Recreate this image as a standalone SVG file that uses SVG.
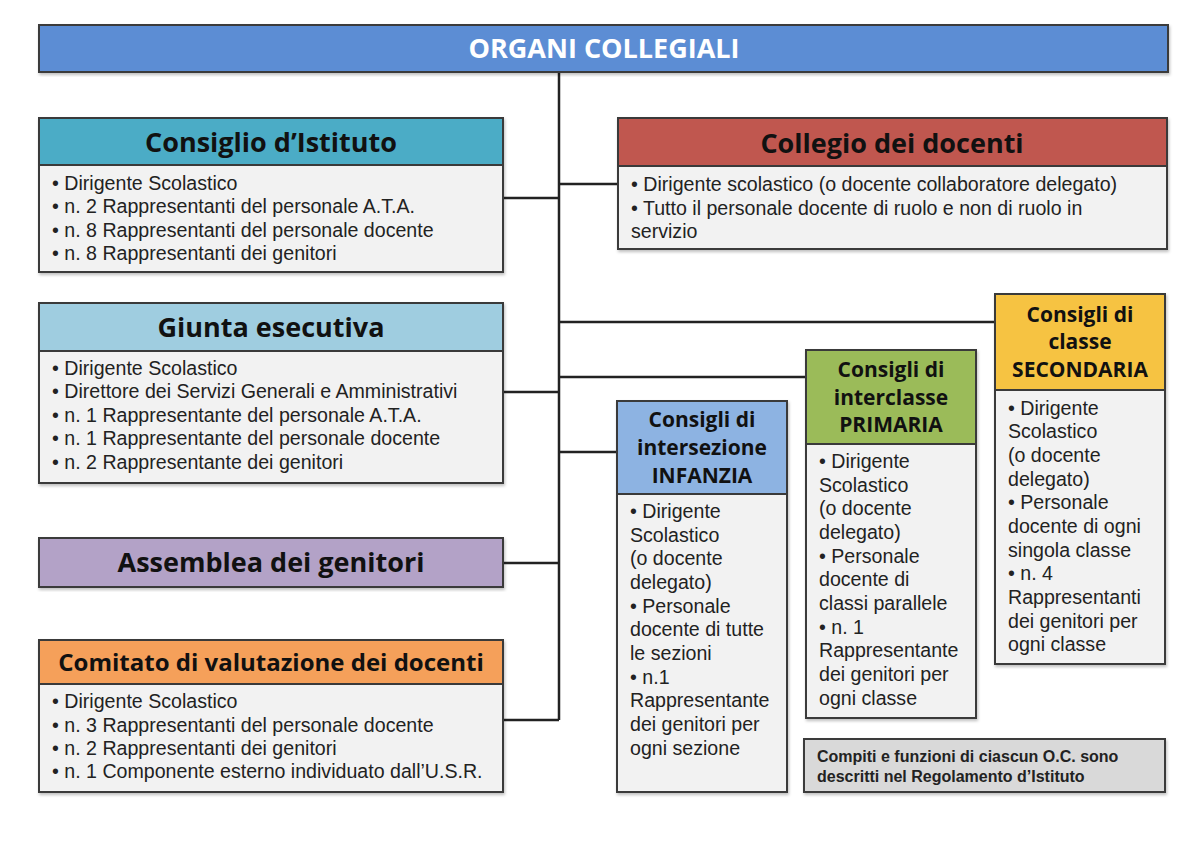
<svg xmlns="http://www.w3.org/2000/svg" width="1200" height="848" viewBox="0 0 1200 848">
<defs>
<style>
.box{stroke:#3a3a3a;stroke-width:2}
.body{fill:#f2f2f2}
.t{font-family:"Open Sans","Liberation Sans",sans-serif;font-weight:bold;fill:#111;text-anchor:middle}
.h{font-size:27px}
.s{font-size:21px}
.b{font-family:"Liberation Sans",Arial,sans-serif;font-size:19.6px;fill:#222}
.n{font-family:"Liberation Sans",Arial,sans-serif;font-size:16px;font-weight:bold;fill:#222}
.conn{stroke:#222;stroke-width:2.5;fill:none}
</style>
<filter id="sh" x="-5%" y="-5%" width="110%" height="115%">
<feDropShadow dx="1" dy="2" stdDeviation="1.5" flood-color="#000" flood-opacity="0.25"/>
</filter>
</defs>
<rect width="1200" height="848" fill="#ffffff"/>

<g id="connectors">
<path class="conn" d="M559 72 V720"/>
<path class="conn" d="M503 198 H559"/>
<path class="conn" d="M559 184 H618"/>
<path class="conn" d="M503 392 H559"/>
<path class="conn" d="M559 322 H995"/>
<path class="conn" d="M559 377 H806"/>
<path class="conn" d="M559 452 H617"/>
<path class="conn" d="M503 563 H559"/>
<path class="conn" d="M503 720 H559"/>
</g>

<g id="organi-collegiali">
<rect class="box" x="39" y="25" width="1129" height="47" fill="#5b8dd4" filter="url(#sh)"/>
<text class="t" x="604" y="58" font-size="27" style="fill:#ffffff">ORGANI COLLEGIALI</text>
</g>

<g id="consiglio-istituto">
<rect class="box body" x="39" y="118" width="464" height="154" filter="url(#sh)"/>
<rect class="box" x="39" y="118" width="464" height="47" fill="#4bacc6"/>
<text class="t h" x="271" y="152">Consiglio d’Istituto</text>
<text class="b" x="52" y="190">• Dirigente Scolastico</text>
<text class="b" x="52" y="213">• n. 2 Rappresentanti del personale A.T.A.</text>
<text class="b" x="52" y="237">• n. 8 Rappresentanti del personale docente</text>
<text class="b" x="52" y="260">• n. 8 Rappresentanti dei genitori</text>
</g>

<g id="giunta-esecutiva">
<rect class="box body" x="39" y="303" width="464" height="180" filter="url(#sh)"/>
<rect class="box" x="39" y="303" width="464" height="48" fill="#9fcde0"/>
<text class="t h" x="271" y="337">Giunta esecutiva</text>
<text class="b" x="52" y="375">• Dirigente Scolastico</text>
<text class="b" x="52" y="398">• Direttore dei Servizi Generali e Amministrativi</text>
<text class="b" x="52" y="422">• n. 1 Rappresentante del personale A.T.A.</text>
<text class="b" x="52" y="445">• n. 1 Rappresentante del personale docente</text>
<text class="b" x="52" y="469">• n. 2 Rappresentante dei genitori</text>
</g>

<g id="assemblea-genitori">
<rect class="box" x="39" y="538" width="464" height="49" fill="#b3a2c7" filter="url(#sh)"/>
<text class="t h" x="271" y="572">Assemblea dei genitori</text>
</g>

<g id="comitato-valutazione">
<rect class="box body" x="39" y="640" width="464" height="152" filter="url(#sh)"/>
<rect class="box" x="39" y="640" width="464" height="44" fill="#f5a05a"/>
<text class="t" x="271" y="671" font-size="24">Comitato di valutazione dei docenti</text>
<text class="b" x="52" y="708">• Dirigente Scolastico</text>
<text class="b" x="52" y="732">• n. 3 Rappresentanti del personale docente</text>
<text class="b" x="52" y="755">• n. 2 Rappresentanti dei genitori</text>
<text class="b" x="52" y="778">• n. 1 Componente esterno individuato dall’U.S.R.</text>
</g>

<g id="collegio-docenti">
<rect class="box body" x="618" y="118" width="549" height="131" filter="url(#sh)"/>
<rect class="box" x="618" y="118" width="549" height="48" fill="#c0574f"/>
<text class="t h" x="892" y="153">Collegio dei docenti</text>
<text class="b" x="631" y="191">• Dirigente scolastico (o docente collaboratore delegato)</text>
<text class="b" x="631" y="215">• Tutto il personale docente di ruolo e non di ruolo in</text>
<text class="b" x="631" y="238">servizio</text>
</g>

<g id="consigli-intersezione">
<rect class="box body" x="617" y="401" width="170" height="391" filter="url(#sh)"/>
<rect class="box" x="617" y="401" width="170" height="93" fill="#8db3e2"/>
<text class="t s" x="702" y="427">Consigli di</text>
<text class="t s" x="702" y="455">intersezione</text>
<text class="t s" x="702" y="483">INFANZIA</text>
<text class="b" x="630" y="518">• Dirigente</text>
<text class="b" x="630" y="542">Scolastico</text>
<text class="b" x="630" y="565">(o docente</text>
<text class="b" x="630" y="589">delegato)</text>
<text class="b" x="630" y="613">• Personale</text>
<text class="b" x="630" y="636">docente di tutte</text>
<text class="b" x="630" y="660">le sezioni</text>
<text class="b" x="630" y="684">• n.1</text>
<text class="b" x="630" y="707">Rappresentante</text>
<text class="b" x="630" y="731">dei genitori per</text>
<text class="b" x="630" y="755">ogni sezione</text>
</g>

<g id="consigli-interclasse">
<rect class="box body" x="806" y="350" width="170" height="368" filter="url(#sh)"/>
<rect class="box" x="806" y="350" width="170" height="94" fill="#9bbb59"/>
<text class="t s" x="891" y="377">Consigli di</text>
<text class="t s" x="891" y="405">interclasse</text>
<text class="t s" x="891" y="432">PRIMARIA</text>
<text class="b" x="819" y="468">• Dirigente</text>
<text class="b" x="819" y="492">Scolastico</text>
<text class="b" x="819" y="515">(o docente</text>
<text class="b" x="819" y="539">delegato)</text>
<text class="b" x="819" y="563">• Personale</text>
<text class="b" x="819" y="586">docente di</text>
<text class="b" x="819" y="610">classi parallele</text>
<text class="b" x="819" y="634">• n. 1</text>
<text class="b" x="819" y="657">Rappresentante</text>
<text class="b" x="819" y="681">dei genitori per</text>
<text class="b" x="819" y="705">ogni classe</text>
</g>

<g id="consigli-classe">
<rect class="box body" x="995" y="294" width="170" height="370" filter="url(#sh)"/>
<rect class="box" x="995" y="294" width="170" height="96" fill="#f6c342"/>
<text class="t s" x="1080" y="322">Consigli di</text>
<text class="t s" x="1080" y="349">classe</text>
<text class="t s" x="1080" y="377">SECONDARIA</text>
<text class="b" x="1008" y="415">• Dirigente</text>
<text class="b" x="1008" y="438">Scolastico</text>
<text class="b" x="1008" y="462">(o docente</text>
<text class="b" x="1008" y="486">delegato)</text>
<text class="b" x="1008" y="509">• Personale</text>
<text class="b" x="1008" y="533">docente di ogni</text>
<text class="b" x="1008" y="557">singola classe</text>
<text class="b" x="1008" y="580">• n. 4</text>
<text class="b" x="1008" y="604">Rappresentanti</text>
<text class="b" x="1008" y="628">dei genitori per</text>
<text class="b" x="1008" y="651">ogni classe</text>
</g>

<g id="nota">
<rect class="box" x="804" y="739" width="361" height="53" fill="#d9d9d9" filter="url(#sh)"/>
<text class="n" x="817" y="762">Compiti e funzioni di ciascun O.C. sono</text>
<text class="n" x="817" y="782">descritti nel Regolamento d’Istituto</text>
</g>
</svg>
